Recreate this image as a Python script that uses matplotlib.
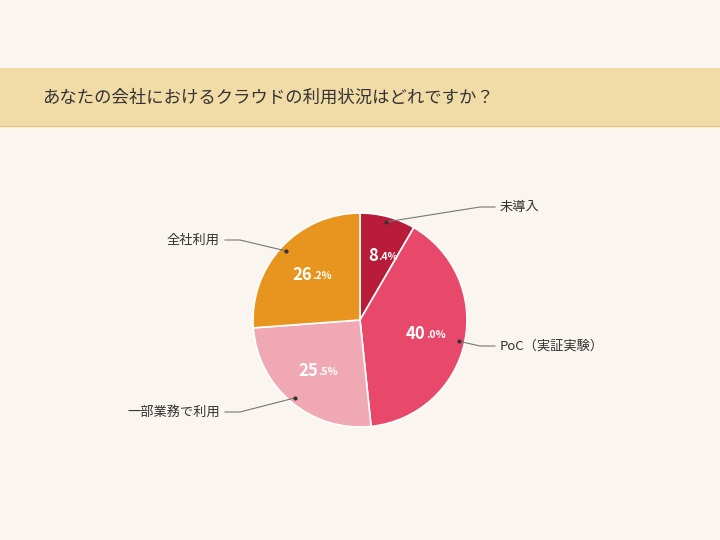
import matplotlib
matplotlib.use("Agg")
import matplotlib.pyplot as plt
import numpy as np
from matplotlib.patches import Rectangle

TITLE = "あなたの会社におけるクラウドの利用状況はどれですか？"
labels = ["未導入", "PoC（実証実験）", "一部業務で利用", "全社利用"]
values = [8.4, 40.0, 25.5, 26.2]
colors = ["#B81C38", "#E8496B", "#F0A8B4", "#E8951F"]
# text anchor (px, y from top) and horizontal alignment for each outside label
label_pos = [(500, 207, "left"), (500, 346, "left"), (220, 412, "right"), (220, 240, "right")]

plt.rcParams["font.family"] = ["Noto Sans CJK JP", "DejaVu Sans"]
BG = "#FAF5EE"
W, H = 720, 540
CX, CY, R = 360, 320, 107

fig = plt.figure(figsize=(7.2, 5.4), dpi=100, facecolor=BG)
ax = fig.add_axes([0, 0, 1, 1])
ax.set_xlim(0, W)
ax.set_ylim(0, H)
ax.set_aspect("equal")
ax.axis("off")
ax.set_facecolor(BG)

# title band
ax.add_patch(Rectangle((0, H - 126), W, 58, facecolor="#F1DBA7", edgecolor="none"))
ax.plot([0, W], [H - 126, H - 126], color="#E6C77E", lw=1)
ax.text(42, H - 98, TITLE, fontsize=12.5, color="#333333", va="center", ha="left")

wedges, _ = ax.pie(values, colors=colors, center=(CX, H - CY), radius=R,
                   startangle=90, counterclock=False,
                   wedgeprops=dict(edgecolor="white", linewidth=1.2))
ax.set_xlim(0, W)
ax.set_ylim(0, H)
ax.set_aspect("equal")
ax.axis("off")

for w, v, lab, (tx, ty, ha) in zip(wedges, values, labels, label_pos):
    mid = np.deg2rad((w.theta1 + w.theta2) / 2)
    # percent label inside slice
    px, py = CX + 0.62 * R * np.cos(mid), H - CY + 0.62 * R * np.sin(mid)
    ip, dp = f"{v:.1f}".split(".")
    ax.text(px + 1, py, ip, fontsize=12, fontweight="bold", color="white", ha="right", va="center")
    ax.text(px + 1, py - 1, f".{dp}%", fontsize=7.5, fontweight="bold", color="white", ha="left", va="center")
    # leader line
    dx, dy = CX + 0.95 * R * np.cos(mid), H - CY + 0.95 * R * np.sin(mid)
    ex = tx - 5 if ha == "left" else tx + 5
    ax.plot([dx, ex - (15 if ha == "left" else -15), ex], [dy, H - ty, H - ty], color="#777777", lw=0.8)
    ax.plot([dx], [dy], "o", color="#333333", ms=2)
    ax.text(tx, H - ty, lab, fontsize=9.5, color="#333333", ha=ha, va="center")

fig.savefig("out.png", dpi=100, facecolor=BG)
